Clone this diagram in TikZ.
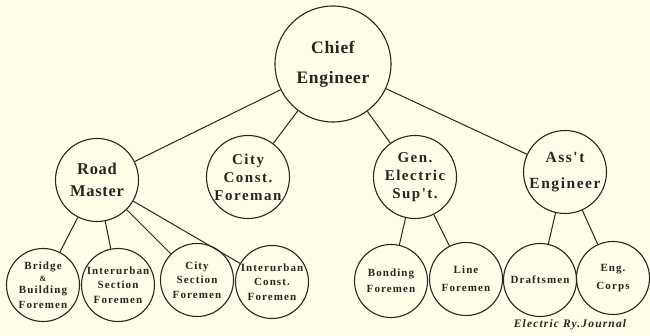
\documentclass[tikz,border=0pt]{standalone}
\usepackage{fontspec}
\setmainfont{Liberation Serif}
\newfontfamily\platefont[LetterSpace=10]{Liberation Serif}
\newfontfamily\platetight[LetterSpace=4]{Liberation Serif}
\definecolor{paper}{RGB}{253,253,233}
\definecolor{ink}{RGB}{40,38,34}
\begin{document}
\begin{tikzpicture}[x=1pt,y=-1pt,
  unit/.style={circle, draw=ink, line width=1.1pt, inner sep=0pt, align=center, text=ink},
  chiefbox/.style={unit, minimum size=116pt, font=\platetight\bfseries\fontsize{17.5}{30}\selectfont},
  midbox/.style={unit, minimum size=83pt, font=\platefont\bfseries\fontsize{15}{18}\selectfont},
  smallbox/.style={unit, minimum size=73pt, font=\platefont\bfseries\fontsize{11}{14.5}\selectfont},
  link/.style={draw=ink, line width=1pt}]
  % paper
  \fill[paper] (0,0) rectangle (650,336);
  \useasboundingbox (0,0) rectangle (650,336);

  % top of the chart
  \node[chiefbox] (chief) at (333,64) {Chief\\Engineer};

  % second level
  \node[midbox, font=\platetight\bfseries\fontsize{16.5}{22}\selectfont] (road) at (97,180) {Road\\Master};
  \node[midbox] (cityc) at (248,177) {City\\Const.\\Foreman};
  \node[midbox] (gen) at (415,177) {Gen.\\Electric\\Sup't.};
  \node[midbox, font=\platefont\bfseries\fontsize{15.5}{26}\selectfont] (asst) at (565,172) {Ass't\\Engineer};

  % third level
  \node[smallbox] (bridge) at (43,285) {Bridge\\[-3pt]{\fontsize{8}{8}\selectfont\&}\\[-2pt]Building\\Foremen};
  \node[smallbox] (isect) at (118,285) {Interurban\\Section\\Foremen};
  \node[smallbox] (csect) at (197,280) {City\\Section\\Foremen};
  \node[smallbox] (iconst) at (272,282) {Interurban\\Const.\\Foremen};
  \node[smallbox, font=\platefont\bfseries\fontsize{11}{16}\selectfont] (bond) at (391,281) {Bonding\\Foremen};
  \node[smallbox, font=\platefont\bfseries\fontsize{11}{18}\selectfont] (line) at (466,279) {Line\\Foremen};
  \node[smallbox] (draft) at (540,280) {Draftsmen};
  \node[smallbox, font=\platefont\bfseries\fontsize{11}{18}\selectfont] (corps) at (613,278) {Eng.\\Corps};

  % connectors
  \foreach \c in {road,cityc,gen,asst} \draw[link] (chief) -- (\c);
  \foreach \c in {bridge,isect,csect,iconst} \draw[link] (road) -- (\c);
  \foreach \c in {bond,line} \draw[link] (gen) -- (\c);
  \foreach \c in {draft,corps} \draw[link] (asst) -- (\c);

  % credit line
  \node[text=ink, font=\platefont\bfseries\itshape\fontsize{11.5}{13}\selectfont, anchor=base] (credit) at (570,327) {Electric Ry.Journal};
\end{tikzpicture}
\end{document}
